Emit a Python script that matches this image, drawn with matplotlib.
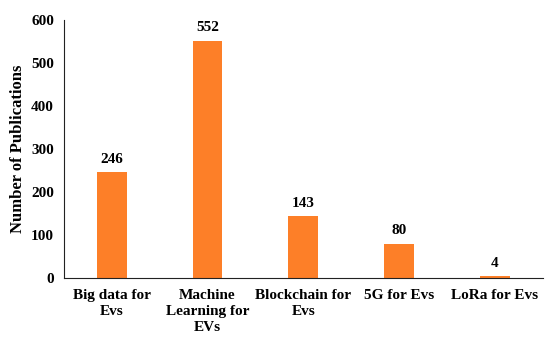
import numpy as np
import matplotlib.pyplot as plt

# 数据
categories = ['Big data for\nEvs', 'Machine\nLearning for\nEVs', 'Blockchain for\nEvs', '5G for Evs', 'LoRa for Evs']
counts = [246, 552, 143, 80, 4]

plt.rcParams['font.family'] = ['Liberation Serif', 'DejaVu Serif']
plt.rcParams['font.weight'] = 'bold'

fig = plt.figure(figsize=(5.5, 3.41), dpi=100)
ax = fig.add_axes([0.116, 0.185, 0.871, 0.756])

x = np.arange(len(categories))
bars = ax.bar(x, counts, width=0.31, color='#FD7F28')
for xi, v in zip(x, counts):
    ax.text(xi, v + 15, str(v), ha='center', va='bottom', fontsize=11, fontweight='bold')

ax.set_xlim(-0.5, 4.5)
ax.set_ylim(0, 600)
ax.set_yticks(range(0, 601, 100))
ax.set_xticks(x)
ax.set_xticklabels(categories, fontsize=10.5, fontweight='bold', va='top', linespacing=1.3)
ax.tick_params(axis='both', length=0, labelsize=11, pad=8)
ax.tick_params(axis='y', pad=7)
ax.set_ylabel('Number of Publications', fontsize=12, fontweight='bold')

ax.spines['top'].set_visible(False)
ax.spines['right'].set_visible(False)
ax.spines['left'].set_color('#222222')
ax.spines['bottom'].set_color('#222222')

fig.savefig('out.png', dpi=100)
